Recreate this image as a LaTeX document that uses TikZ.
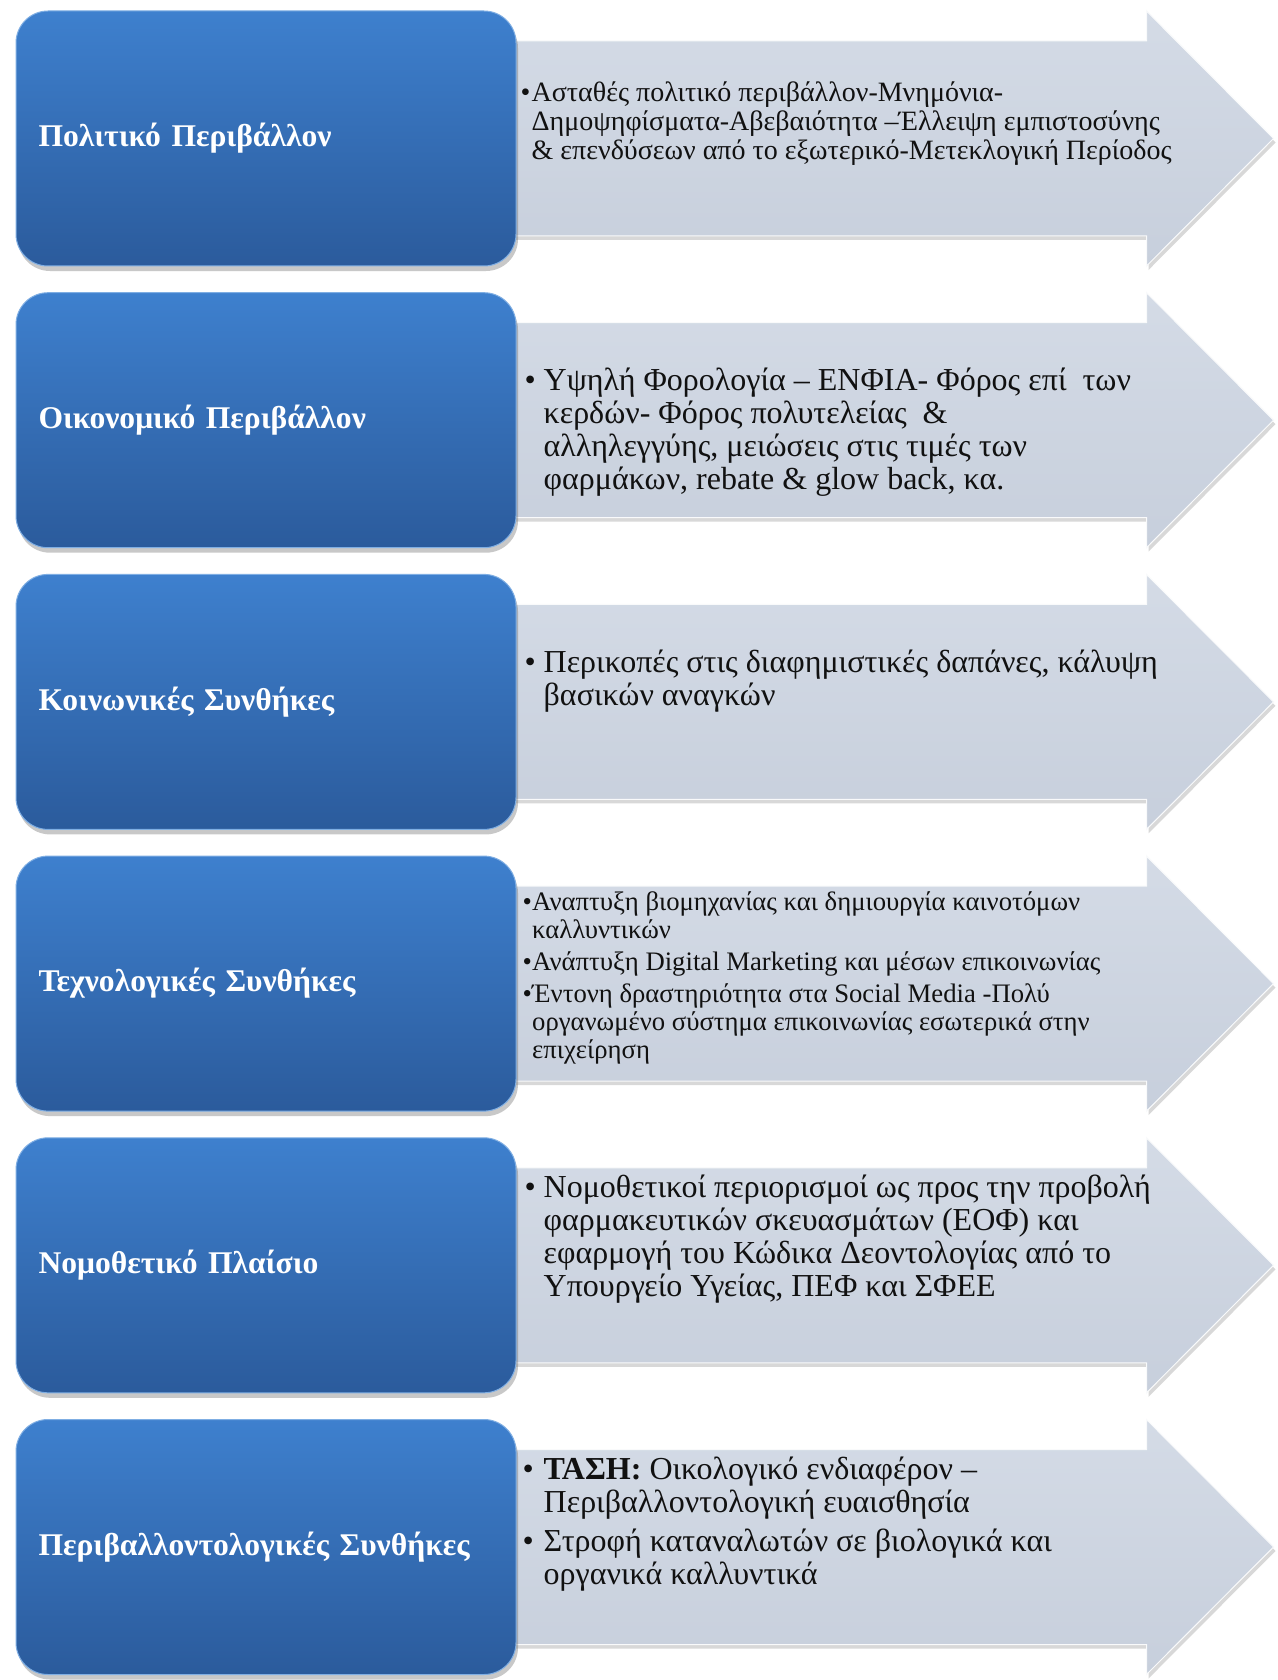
\documentclass[tikz,border=0pt]{standalone}
\usepackage{fontspec}
\setmainfont{Liberation Serif}
\usepackage{tikz}
\usetikzlibrary{calc, positioning, shadows, backgrounds}
\definecolor{catTop}{HTML}{3E80CE}
\definecolor{catBot}{HTML}{2B5B9C}
\definecolor{catRim}{HTML}{7FAEE3}
\definecolor{arrowTop}{HTML}{D4DBE6}
\definecolor{arrowBot}{HTML}{C7CFDC}
\definecolor{inkBlack}{HTML}{111111}
\newcommand{\bul}[1]{\makebox[#1][l]{•}}
\tikzset{
  cat/.style   = {rounded corners=32pt, minimum width=500pt, minimum height=255pt,
                  inner xsep=22.5pt, text width=455pt, align=left,
                  top color=catTop, bottom color=catBot, draw=catRim, line width=1pt,
                  text=white, font=\fontsize{31.6}{35}\selectfont\bfseries,
                  drop shadow={shadow xshift=2pt, shadow yshift=-5pt, opacity=.3, fill=black!70}},
  band/.style  = {top color=arrowTop, bottom color=arrowBot, draw=white!85!arrowTop, line width=1pt,
                  drop shadow={shadow xshift=2pt, shadow yshift=-4pt, opacity=.25, fill=black!60}},
  note/.style  = {anchor=base west, inner sep=0pt, text=inkBlack},
  big/.style   = {font=\fontsize{32}{33}\selectfont},
  small/.style = {font=\fontsize{28}{29}\selectfont},
  tiny/.style  = {font=\fontsize{26.7}{28}\selectfont}
}

\begin{document}
\begin{tikzpicture}[x=1pt, y=-1pt]
  \useasboundingbox (0,0) rectangle (1277,1680);
  \node[cat] (b1) at (266,138.5)  {Πολιτικό Περιβάλλον};
  \node[cat] (b2) at (266,420.2)  {Οικονομικό Περιβάλλον};
  \node[cat] (b3) at (266,701.9)  {Κοινωνικές Συνθήκες};
  \node[cat] (b4) at (266,983.6)  {Τεχνολογικές Συνθήκες};
  \node[cat] (b5) at (266,1265.3) {Νομοθετικό Πλαίσιο};
  \node[cat] (b6) at (266,1547.0) {Περιβαλλοντολογικές Συνθήκες};

  \begin{scope}[on background layer]
    \fill[white] (0,0) rectangle (1277,1680);
    \foreach \i in {1,...,6}
      \draw[band] ($(b\i.east)+(-40,-97.5)$) -- ($(b\i.east)+(630,-97.5)$)
        -- ($(b\i.east)+(630,-127.5)$) -- ($(b\i.east)+(757,0)$)
        -- ($(b\i.east)+(630,127.5)$) -- ($(b\i.east)+(630,97.5)$)
        -- ($(b\i.east)+(-40,97.5)$) -- cycle;
  \end{scope}

  \node[note, small] (n1) at ($(b1.east)+(4,-37.2)$) {\begin{tabular}[t]{@{}l@{}l@{}}
    \bul{11pt} & Ασταθές πολιτικό περιβάλλον-Μνημόνια-\\
    & Δημοψηφίσματα-Αβεβαιότητα –Έλλειψη εμπιστοσύνης\\
    & \& επενδύσεων από το εξωτερικό-Μετεκλογική Περίοδος
  \end{tabular}};
  \node[note, big] (n2) at ($(b2.east)+(8,-29.7)$) {\begin{tabular}[t]{@{}l@{}l@{}}
    \bul{19pt} & Υψηλή Φορολογία – ΕΝΦΙΑ- Φόρος επί\ \ των\\
    & κερδών- Φόρος πολυτελείας\ \ \&\\
    & αλληλεγγύης, μειώσεις στις τιμές των\\
    & φαρμάκων, rebate \& glow back, κα.
  \end{tabular}};
  \node[note, big] (n3) at ($(b3.east)+(8,-29.5)$) {\begin{tabular}[t]{@{}l@{}l@{}}
    \bul{19pt} & Περικοπές στις διαφημιστικές δαπάνες, κάλυψη\\
    & βασικών αναγκών
  \end{tabular}};
  \node[note, tiny] (n4) at ($(b4.east)+(6,-73)$) {\begin{tabular}[t]{@{}l@{}l@{}}
    \bul{9.5pt} & Αναπτυξη βιομηχανίας και δημιουργία καινοτόμων\\
    & καλλυντικών\\[4pt]
    \bul{9.5pt} & Ανάπτυξη Digital Marketing και μέσων επικοινωνίας\\[4pt]
    \bul{9.5pt} & Έντονη δραστηριότητα στα Social Media -Πολύ\\
    & οργανωμένο σύστημα επικοινωνίας εσωτερικά στην\\
    & επιχείρηση
  \end{tabular}};
  \node[note, big] (n5) at ($(b5.east)+(8,-68)$) {\begin{tabular}[t]{@{}l@{}l@{}}
    \bul{19pt} & Νομοθετικοί περιορισμοί ως προς την προβολή\\
    & φαρμακευτικών σκευασμάτων (ΕΟΦ) και\\
    & εφαρμογή του Κώδικα Δεοντολογίας από το\\
    & Υπουργείο Υγείας, ΠΕΦ και ΣΦΕΕ
  \end{tabular}};
  \node[note, big] (n6) at ($(b6.east)+(6,-67.8)$) {\begin{tabular}[t]{@{}l@{}l@{}}
    \bul{21pt} & \textbf{ΤΑΣΗ:} Οικολογικό ενδιαφέρον –\\
    & Περιβαλλοντολογική ευαισθησία\\[6pt]
    \bul{21pt} & Στροφή καταναλωτών σε βιολογικά και\\
    & οργανικά καλλυντικά
  \end{tabular}};
\end{tikzpicture}
\end{document}
